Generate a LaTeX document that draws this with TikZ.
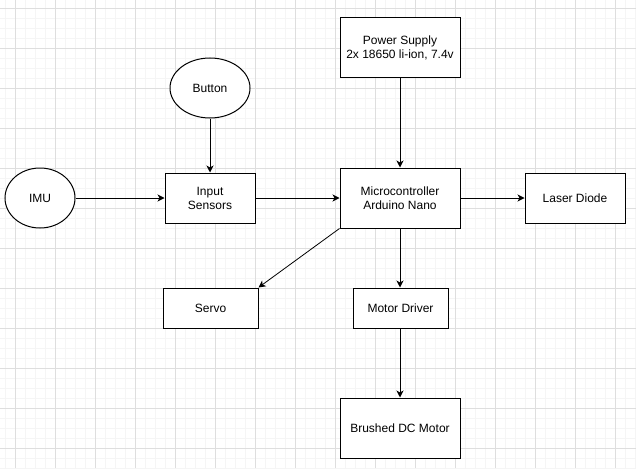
\documentclass[tikz,border=0pt]{standalone}
\usepackage{fontspec}
\setmainfont{Liberation Sans}
\usetikzlibrary{arrows.meta,shapes.geometric}
\definecolor{minorgrid}{HTML}{F5F5F5}
\definecolor{majorgrid}{HTML}{DEDEDE}
\begin{document}
\begin{tikzpicture}[x=1pt,y=-1pt,
  box/.style={draw=black,line width=1pt,fill=white,rectangle,inner sep=0pt,align=center,font=\fontsize{12}{14}\selectfont},
  oval/.style={draw=black,line width=1pt,fill=white,ellipse,inner sep=0pt,align=center,font=\fontsize{12}{14}\selectfont},
  conn/.style={line width=1pt,-{Stealth[length=7pt,width=7pt,inset=2pt]}}]
\useasboundingbox (0,0) rectangle (636,468);
\fill[white] (0,0) rectangle (636,468);
% minor grid
\foreach \x in {5,25,35,45,65,75,85,105,115,125,145,155,165,185,195,205,225,235,245,265,275,285,305,315,325,345,355,365,385,395,405,425,435,445,465,475,485,505,515,525,545,555,565,585,595,605,625,635}
  \draw[minorgrid,line width=0.8pt] (\x,0) -- (\x,468);
\foreach \y in {18,28,38,58,68,78,98,108,118,138,148,158,178,188,198,218,228,238,258,268,278,298,308,318,338,348,358,378,388,398,418,428,438,458,468}
  \draw[minorgrid,line width=0.8pt] (0,\y) -- (636,\y);
% major grid
\foreach \x in {15,55,...,615}
  \draw[majorgrid,line width=0.8pt] (\x,0) -- (\x,468);
\foreach \y in {8,48,...,448}
  \draw[majorgrid,line width=0.8pt] (0,\y) -- (636,\y);
% nodes
\node[box,minimum width=120pt,minimum height=60pt] (ps) at (400,48) {Power Supply\\2x 18650 li-ion, 7.4v};
\node[oval,minimum width=80pt,minimum height=60pt] (btn) at (210,88) {Button};
\node[oval,minimum width=70pt,minimum height=60pt] (imu) at (40,198) {IMU};
\node[box,minimum width=90pt,minimum height=50pt] (in) at (210,198) {Input\\Sensors};
\node[box,minimum width=120pt,minimum height=60pt] (mc) at (400,198) {Microcontroller\\Arduino Nano};
\node[box,minimum width=100pt,minimum height=50pt] (laser) at (575,198) {Laser Diode};
\node[box,minimum width=95pt,minimum height=40pt] (servo) at (210.5,308) {Servo};
\node[box,minimum width=95pt,minimum height=40pt] (md) at (400.5,308) {Motor Driver};
\node[box,minimum width=120pt,minimum height=60pt] (dc) at (400,428) {Brushed DC Motor};
% connectors
\draw[conn] (ps.south) -- (mc.north);
\draw[conn] (btn.south) -- (in.north);
\draw[conn] (imu.east) -- (in.west);
\draw[conn] (in.east) -- (mc.west);
\draw[conn] (mc.east) -- (laser.west);
\draw[conn,line width=0.8pt] (mc.south west) -- (servo.north east);
\draw[conn] (mc.south) -- (md.north -| mc.south);
\draw[conn] (md.south -| mc.south) -- (dc.north);
\end{tikzpicture}
\end{document}
